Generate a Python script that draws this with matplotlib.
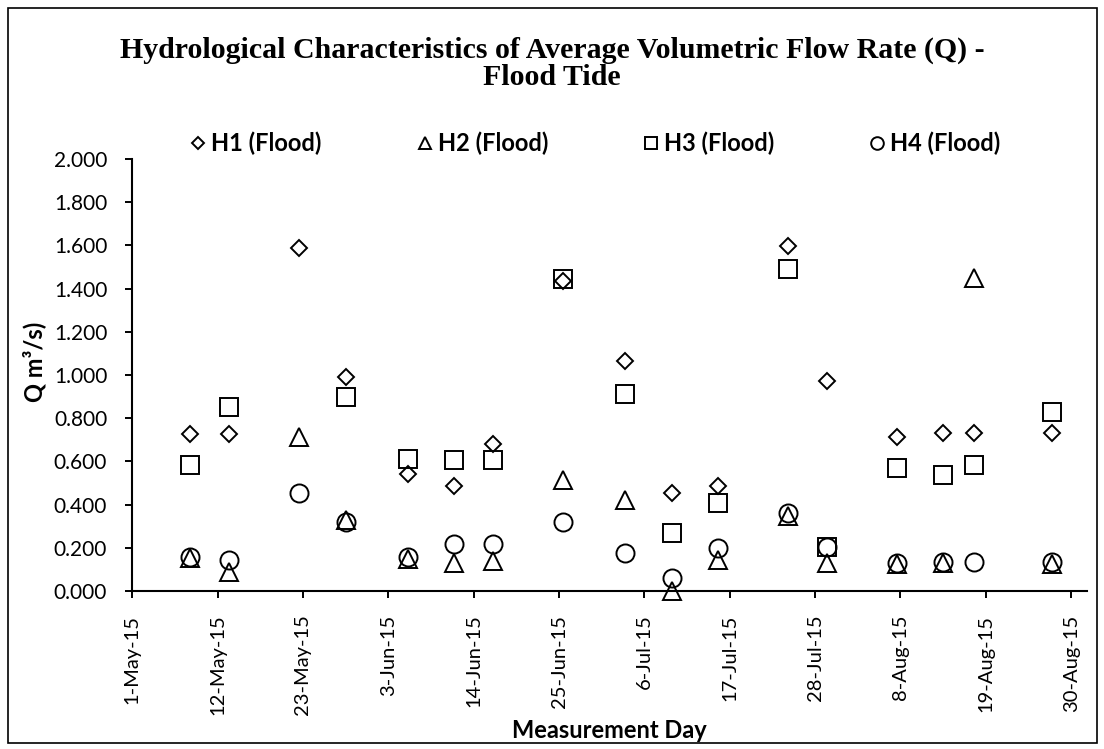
import numpy as np
import matplotlib.pyplot as plt
import matplotlib.dates as mdates
from matplotlib.patches import Rectangle
from matplotlib.ticker import FuncFormatter, MultipleLocator

plt.rcParams['font.family'] = ['Lato', 'DejaVu Sans']

# measurement days and average flow rate Q (m3/s) at the four stations, flood tide
dates = ["2015-05-08", "2015-05-13", "2015-05-22", "2015-05-28", "2015-06-05",
         "2015-06-11", "2015-06-16", "2015-06-25", "2015-07-03", "2015-07-09",
         "2015-07-15", "2015-07-24", "2015-07-29", "2015-08-07", "2015-08-13",
         "2015-08-17", "2015-08-27"]
h1 = [0.727, 0.727, 1.588, 0.993, 0.541, 0.487, 0.681, 1.433, 1.067, 0.453,
      0.487, 1.599, 0.970, 0.712, 0.731, 0.731, 0.731]
h2 = [0.151, 0.089, 0.715, 0.330, 0.150, 0.131, 0.139, 0.514, 0.422, 0.002,
      0.145, 0.348, 0.131, 0.125, 0.130, 1.449, 0.125]
h3 = [0.584, 0.854, np.nan, 0.897, 0.612, 0.607, 0.607, 1.444, 0.913, 0.268,
      0.406, 1.491, 0.205, 0.568, 0.538, 0.584, 0.828]
h4 = [0.159, 0.144, 0.453, 0.321, 0.159, 0.216, 0.216, 0.318, 0.175, 0.062,
      0.200, 0.363, 0.205, 0.131, 0.136, 0.136, 0.136]

series = [("H1 (Flood)", h1, "D", 8.5),
          ("H2 (Flood)", h2, "^", 12.5),
          ("H3 (Flood)", h3, "s", 12.5),
          ("H4 (Flood)", h4, "o", 13)]

# excel date axis puts each point in the middle of its day slot
x = np.array(dates, dtype="datetime64[D]").astype("datetime64[s]") + np.timedelta64(12, "h")

fig = plt.figure(figsize=(11.04, 7.49), dpi=100)
ax = fig.add_axes([132.2 / 1104, 1 - 591 / 749, (1086.7 - 132.2) / 1104, (591 - 159) / 749])

handles = []
for label, y, mk, ms in series:
    h, = ax.plot(x, y, linestyle="none", marker=mk, markersize=ms, mfc="none",
                 mec="black", mew=1.4, label=label, clip_on=False)
    handles.append(h)

ax.set_xlim(np.datetime64("2015-05-01"), np.datetime64("2015-09-01"))
ax.set_ylim(0, 2.0)
ax.yaxis.set_major_locator(MultipleLocator(0.2))
ax.yaxis.set_major_formatter(FuncFormatter(lambda v, p: f"{v:.3f}"))

ticks = np.arange(np.datetime64("2015-05-01"), np.datetime64("2015-09-01"), 11)
ax.set_xticks(ticks)


def day_fmt(v, p):
    d = mdates.num2date(v)
    return f"{d.day}-{d:%b-%y}"


ax.xaxis.set_major_formatter(FuncFormatter(day_fmt))
ax.tick_params(axis="x", labelrotation=90, labelsize=14.5, length=5, width=1.4, pad=12)
ax.tick_params(axis="y", labelsize=15, length=5, width=1.4, pad=13)

for s in ["top", "right"]:
    ax.spines[s].set_visible(False)
for s in ["left", "bottom"]:
    ax.spines[s].set_linewidth(1.5)

ax.set_xlabel("Measurement Day", fontsize=17, fontweight="bold", va="center")
ax.xaxis.set_label_coords(0.5, -(731 - 591) / 432)
ax.set_ylabel("Q m³/s)", fontsize=17, fontweight="bold", va="center")
ax.yaxis.set_label_coords((34 - 132.2) / 954.5, (591 - 362) / 432)

fig.text(0.5, 1 - 64 / 749, "Hydrological Characteristics of Average Volumetric Flow Rate (Q) -\nFlood Tide",
         ha="center", va="center", fontsize=21.5, fontweight="bold",
         family="Liberation Serif", linespacing=1.0)

fig.legend(handles=handles, loc="center", bbox_to_anchor=(595 / 1104, 1 - 143 / 749),
           ncol=4, frameon=False, prop={"weight": "bold", "size": 17},
           markerscale=0.7, handlelength=0.7, handletextpad=0.2, columnspacing=4.0)

fig.patches.append(Rectangle((8 / 1104, 6 / 749), 1089 / 1104, 735 / 749, transform=fig.transFigure,
                             fill=False, edgecolor="black", linewidth=1.2))

fig.savefig("out.png", dpi=100)
